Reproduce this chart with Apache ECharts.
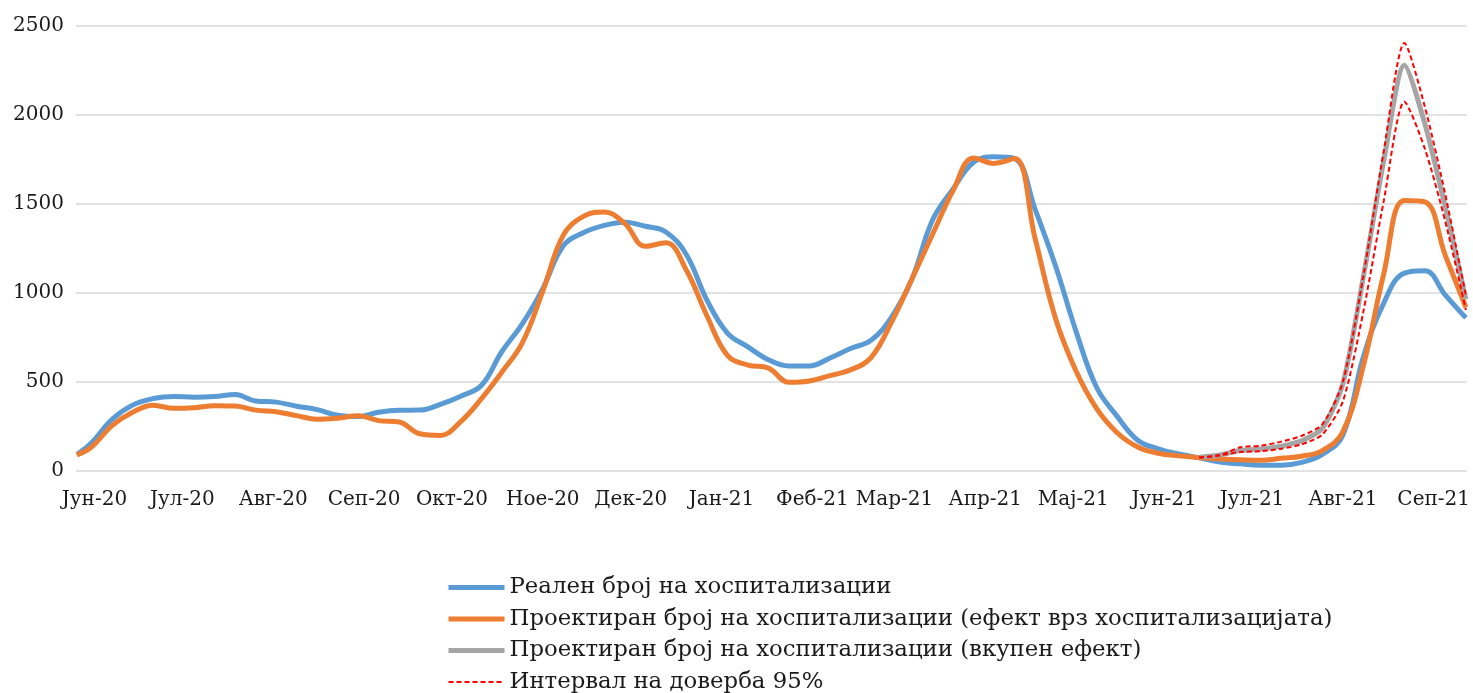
<!DOCTYPE html>
<html>
<head>
<meta charset="utf-8">
<title>Хоспитализации</title>
<script src="https://cdn.jsdelivr.net/npm/echarts@6.0.0/dist/echarts.min.js"></script>
<style>
  html, body { margin: 0; padding: 0; background: #fff; }
  #main { width: 1473px; height: 693px; }
</style>
</head>
<body>
<div id="main"></div>
<script>
// x is days counted from 1 June 2020
var monthDays = [0, 30, 61, 92, 122, 153, 183, 214, 245, 273, 304, 334, 365, 395, 426, 457];
var monthLabels = ['Јун-20', 'Јул-20', 'Авг-20', 'Сеп-20', 'Окт-20', 'Ное-20', 'Дек-20', 'Јан-21',
                   'Феб-21', 'Мар-21', 'Апр-21', 'Мај-21', 'Јун-21', 'Јул-21', 'Авг-21', 'Сеп-21'];

var weekDays = [-6, -1, 6, 13, 20, 27, 34, 41, 48, 55, 62, 69, 76, 83, 90, 97, 104, 111, 118, 125,
                132, 139, 146, 153, 160, 167, 174, 181, 188, 195, 202, 209, 216, 223, 230, 237, 244,
                251, 258, 265, 272, 279, 286, 293, 300, 307, 314, 321, 328, 335, 342, 349, 356, 363,
                370, 377, 384, 391, 398, 405, 412, 419, 426, 433, 440, 447, 454, 461, 468];

var realHosp = [92, 158, 290, 370, 407, 419, 414, 418, 430, 393, 387, 364, 345, 313, 306, 330, 341,
                342, 374, 420, 480, 670, 826, 1025, 1265, 1340, 1380, 1398, 1375, 1343, 1215, 960,
                775, 697, 625, 590, 590, 635, 688, 734, 865, 1080, 1410, 1585, 1735, 1765, 1755,
                1470, 1150, 783, 469, 307, 173, 125, 96, 74, 50, 40, 32, 32, 48, 93, 200, 640, 945,
                1112, 1125, 988, 860];

var projHosp = [90, 135, 255, 330, 370, 352, 356, 367, 365, 342, 333, 311, 291, 297, 310, 283, 275,
                209, 200, 278, 405, 555, 720, 1010, 1325, 1432, 1455, 1390, 1262, 1282, 1128, 872,
                650, 595, 578, 498, 506, 536, 568, 637, 836, 1080, 1330, 1575, 1758, 1728, 1755,
                1305, 855, 560, 350, 215, 135, 100, 85, 75, 68, 63, 60, 71, 83, 115, 220, 590, 1110,
                1520, 1512, 1210, 920];

var projDays = [377, 384, 391, 398, 405, 412, 419, 426, 433, 440, 447, 454, 461, 468];
var projTotal = [78, 90, 115, 123, 140, 170, 240, 490, 1090, 1745, 2280, 1950, 1480, 965];
var ciUpper = [76, 88, 133, 142, 165, 198, 262, 500, 1095, 1800, 2405, 2045, 1550, 985];
var ciLower = [76, 88, 107, 111, 125, 150, 205, 390, 895, 1520, 2075, 1810, 1400, 905];

var seriesNames = [
  'Реален број на хоспитализации',
  'Проектиран број на хоспитализации (ефект врз хоспитализацијата)',
  'Проектиран број на хоспитализации (вкупен ефект)',
  'Интервал на доверба 95%'
];

function pairs(xs, ys) {
  return xs.map(function (x, i) { return [x, ys[i]]; });
}

var chart = echarts.init(document.getElementById('main'));
var font = 'DejaVu Serif';

function lineSeries(name, xs, ys, color, width, dashed, smooth) {
  return {
    name: name,
    type: 'line',
    data: pairs(xs, ys),
    smooth: smooth,
    symbol: 'none',
    lineStyle: { color: color, width: width, type: dashed ? [5, 3] : 'solid' },
    itemStyle: { color: color }
  };
}

chart.setOption({
  animation: false,
  backgroundColor: '#ffffff',
  grid: { left: 76, right: 3, top: 26, bottom: 222 },
  xAxis: {
    type: 'value',
    min: -6.3,
    max: 468.3,
    axisLine: { show: false },
    axisTick: { show: false },
    splitLine: { show: false },
    axisLabel: {
      customValues: monthDays,
      formatter: function (v) {
        var i = monthDays.indexOf(v);
        return i >= 0 ? monthLabels[i] : '';
      },
      fontFamily: font,
      fontSize: 20,
      color: '#1a1a1a',
      margin: 19
    }
  },
  yAxis: {
    type: 'value',
    min: 0,
    max: 2500,
    interval: 500,
    axisLine: { show: false },
    axisTick: { show: false },
    splitLine: { lineStyle: { color: '#d9d9d9', width: 1.5 } },
    axisLabel: {
      fontFamily: font, fontSize: 20, color: '#1a1a1a', margin: 12,
      formatter: function (v) { return String(v); }
    }
  },
  legend: {
    orient: 'vertical',
    left: 441,
    top: 570,
    height: 400,
    itemWidth: 56,
    itemHeight: 14,
    itemGap: 6.5,
    itemStyle: { opacity: 0 },
    data: [
      { name: seriesNames[0], lineStyle: { width: 5 } },
      { name: seriesNames[1], lineStyle: { width: 5 } },
      { name: seriesNames[2], lineStyle: { width: 5 } },
      { name: seriesNames[3], lineStyle: { width: 2, type: [5, 3] } }
    ],
    textStyle: { fontFamily: font, fontSize: 22.8, color: '#1a1a1a', lineHeight: 25 }
  },
  series: [
    lineSeries(seriesNames[0], weekDays, realHosp, '#5b9bd5', 5, false, 0.4),
    lineSeries(seriesNames[1], weekDays, projHosp, '#ed7d31', 5, false, 0.4),
    lineSeries(seriesNames[2], projDays, projTotal, '#a5a5a5', 5, false, 0.25),
    lineSeries(seriesNames[3], projDays, ciUpper, '#ff0000', 2, true, 0.25),
    lineSeries(seriesNames[3], projDays, ciLower, '#ff0000', 2, true, 0.25)
  ]
});
</script>
</body>
</html>
